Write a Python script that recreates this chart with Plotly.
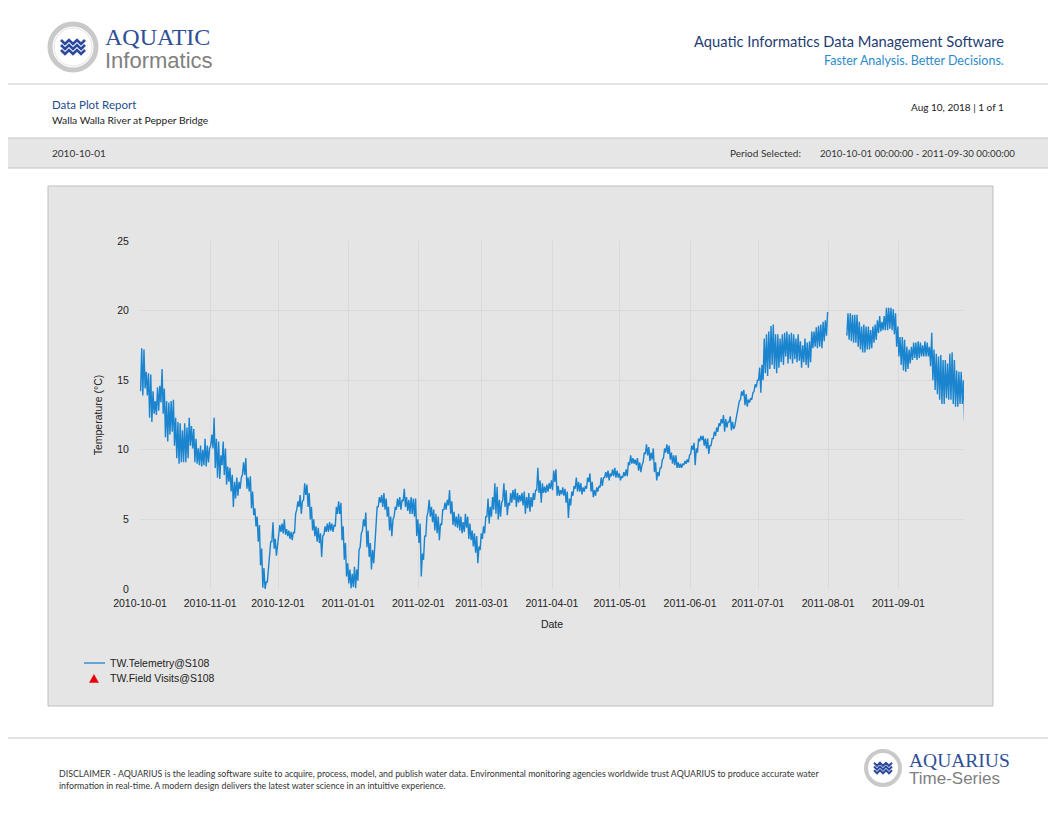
import pandas as pd
import plotly.graph_objects as go

# ---------------- data (daily low / high water temperature, deg C) ----------------
START = "2010-10-01"
END = "2011-09-30"

oct_low = [14.2,13.9,14.4,13.9,12.3,12.0,12.6,12.5,12.8,13.4,12.6,10.9,10.6,11.1,11.3,10.3,9.4,9.0,9.1,9.1,9.1,9.4,10.3,10.1,9.1,9.0,8.9,8.8,8.9,8.8,9.1]
oct_high = [17.3,17.2,15.6,15.5,15.4,14.2,13.5,14.5,14.6,15.8,14.4,13.5,13.4,13.5,13.6,12.3,12.0,11.9,11.4,11.9,11.6,12.3,11.7,11.5,10.8,10.1,10.3,10.0,10.8,10.3,10.1]
nov_low = [10.3,10.1,8.7,8.0,7.9,8.9,8.2,7.5,7.7,7.0,5.9,6.5,6.7,7.2,8.2,8.2,7.2,7.0,5.8,5.3,4.5,3.4,1.7,0.1,0.0,0.5,2.7,3.4,2.9,2.4]
nov_high = [11.1,12.3,10.8,10.6,9.6,10.6,10.1,8.8,8.7,8.2,7.7,8.0,7.7,8.0,9.1,9.4,8.0,8.1,7.0,5.8,5.2,4.6,2.9,1.5,0.5,1.5,3.4,4.8,3.6,3.2]
dec_low = [4.0,4.1,4.0,3.9,3.8,3.6,3.5,4.0,5.7,5.9,5.4,6.4,6.75,5.9,5.0,4.2,3.8,3.4,3.3,2.3,3.9,4.1,4.1,4.2,4.1,4.5,5.4,5.4,3.5,2.1,0.9]
dec_high = [4.6,4.7,5.0,4.3,4.2,4.1,4.1,5.4,6.3,6.75,6.3,7.6,7.5,6.9,5.9,5.0,4.5,4.4,4.0,3.8,4.5,4.7,4.8,4.7,4.6,5.9,6.3,6.2,4.5,3.3,1.85]
jan_low = [0.4,0.05,0.15,0.05,0.6,3.0,4.2,4.5,3.0,2.3,1.4,1.85,4.5,5.9,6.2,5.9,5.7,5.2,4.2,3.8,5.2,5.7,5.9,5.7,6.3,5.9,5.6,5.4,5.4,5.2,3.8]
jan_high = [1.4,1.1,1.6,1.4,2.8,4.0,5.0,5.5,4.2,3.3,2.8,3.8,5.9,6.6,6.75,6.9,6.5,5.9,5.2,5.0,5.9,6.5,6.6,6.4,7.2,6.6,6.4,6.6,6.5,6.5,5.0]
feb_low = [3.3,0.9,2.1,3.8,5.55,5.2,4.8,4.2,4.0,3.5,4.6,5.7,5.7,6.0,5.4,4.6,4.5,4.4,4.2,4.0,4.1,4.4,3.6,3.5,3.05,2.6,1.85,2.8]
feb_high = [4.7,2.55,3.8,5.2,6.4,5.9,5.7,5.4,5.2,4.7,5.7,6.2,6.4,7.1,6.3,5.55,5.2,5.4,5.2,4.8,5.4,5.2,4.7,4.2,4.0,3.8,3.05,4.0]
mar_low = [3.6,4.0,5.2,4.7,5.2,5.7,5.4,5.0,5.2,6.4,5.9,5.3,6.0,6.2,6.4,5.9,6.2,6.3,6.0,5.4,5.8,5.55,5.9,6.4,7.1,6.9,6.2,6.9,6.9,7.0,7.2]
mar_high = [4.5,5.2,6.5,5.9,6.6,7.6,7.35,6.4,6.2,7.6,7.1,6.2,6.9,7.1,7.2,6.9,6.75,6.9,7.0,6.6,6.9,6.6,6.9,7.1,8.7,7.8,7.6,7.35,7.5,7.6,7.8]
apr_low = [7.1,7.7,6.7,6.7,6.8,6.7,6.2,5.1,6.0,6.7,7.2,7.0,7.0,6.8,7.0,7.2,7.7,7.0,6.6,6.7,7.0,7.3,7.4,8.0,8.0,7.8,8.1,8.1,8.0,8.0]
apr_high = [8.5,8.6,7.4,7.1,7.3,7.2,7.0,6.5,7.0,7.4,8.0,7.7,7.6,7.3,7.4,8.0,8.3,7.7,7.1,7.3,7.4,8.0,8.0,8.4,8.5,8.3,8.6,8.7,8.5,8.3]
may_low = [7.8,8.0,8.1,8.1,8.9,9.0,9.0,8.9,8.5,8.4,9.1,9.7,9.6,9.2,9.3,8.4,7.8,8.1,8.7,9.4,9.8,9.7,9.3,9.0,8.9,8.7,8.7,8.7,8.9,9.0,9.1]
may_high = [8.1,8.4,8.6,9.1,9.6,9.4,9.3,9.4,9.1,8.9,9.8,10.4,10.2,9.8,10.1,9.1,8.4,8.7,9.3,10.1,10.4,10.3,9.8,9.6,9.6,9.1,9.0,9.0,9.2,9.3,9.6]
jun_low = [9.7,10.0,8.9,9.8,10.6,10.7,10.3,10.1,9.7,10.3,10.8,11.0,11.3,11.7,11.9,11.3,11.6,12.0,11.4,11.5,12.1,12.9,13.6,13.9,13.2,13.1,13.4,13.6,14.2,14.5]
jun_high = [10.3,10.5,10.1,10.8,11.0,11.0,10.8,10.8,10.3,10.8,11.3,11.6,11.9,12.2,12.5,12.2,12.0,12.4,12.0,11.7,12.5,13.5,14.2,14.3,14.0,13.6,13.7,14.1,14.7,15.0]
jul_low = [15.0,14.1,15.0,15.5,15.3,15.8,16.1,15.8,15.5,15.9,16.3,16.1,16.7,16.2,16.5,16.2,16.5,16.3,16.4,15.9,16.3,16.1,15.9,16.3,17.3,17.4,17.3,17.4,17.3,17.8,18.2]
jul_high = [15.9,16.1,18.0,18.3,18.5,18.9,19.0,18.3,18.3,18.0,18.3,18.4,18.5,18.3,18.4,18.3,18.0,18.3,17.8,17.5,18.0,17.7,17.8,18.5,18.5,18.8,18.9,19.0,19.2,19.3,19.9]
aug_low = [None]*8 + [18.2,17.9,17.8,17.7,17.7,17.4,17.2,17.0,17.0,17.2,17.2,17.3,17.7,17.9,18.4,18.5,18.6,18.6,18.6,18.7,18.6,18.3,17.4]
aug_high = [None]*8 + [19.8,19.8,19.7,19.7,19.7,19.2,18.85,19.0,18.85,18.85,18.6,18.85,19.0,19.3,19.6,19.2,19.6,20.2,20.2,20.2,20.1,19.8,18.85]
sep_low = [16.7,16.1,15.7,15.6,15.8,16.2,16.45,16.6,16.45,16.6,16.7,16.7,16.7,16.7,16.0,15.0,14.3,14.0,13.6,13.3,13.3,13.7,13.6,13.6,13.3,13.1,13.1,13.3,13.3,12.1]
sep_high = [18.1,18.1,17.9,17.4,17.2,17.4,17.7,17.7,17.8,17.7,17.5,17.8,17.7,17.4,18.4,17.2,16.9,16.7,16.8,16.45,16.45,16.2,16.9,17.0,16.45,15.7,15.6,15.6,15.0,14.9]

x_ticks = ["2010-10-01","2010-11-01","2010-12-01","2011-01-01","2011-02-01","2011-03-01",
           "2011-04-01","2011-05-01","2011-06-01","2011-07-01","2011-08-01","2011-09-01"]
y_ticks = [0, 5, 10, 15, 20, 25]

series_name = "TW.Telemetry@S108"
visits_name = "TW.Field Visits@S108"
visit_dates = []      # no field visits are plotted in this period
visit_values = []

# ---------------- build series ----------------
lows = (oct_low + nov_low + dec_low + jan_low + feb_low + mar_low +
        apr_low + may_low + jun_low + jul_low + aug_low + sep_low)
highs = (oct_high + nov_high + dec_high + jan_high + feb_high + mar_high +
         apr_high + may_high + jun_high + jul_high + aug_high + sep_high)
days = pd.date_range(START, END, freq="D")
xs, ys = [], []
for d, lo, hi in zip(days, lows, highs):
    xs += [d + pd.Timedelta(hours=6), d + pd.Timedelta(hours=18)]
    ys += [lo, hi]

# ---------------- page geometry helpers (page pixels -> paper) ----------------
OFF = 8                      # the page body margin
W, H = 1056 - OFF, 816 - OFF
def X(px): return (px - OFF) / W
def Y(py): return 1 - (py - OFF) / H

FONT = "Lato, 'Liberation Sans', sans-serif"
AX_FONT = "'Liberation Sans', Arial, sans-serif"
LINE_COLOR = "#1a84cf"
VISIT_COLOR = "#e8000b"

fig = go.Figure()
fig.add_trace(go.Scatter(x=xs, y=ys, mode="lines", name=series_name, showlegend=False,
                         line=dict(color=LINE_COLOR, width=1.4), connectgaps=False))
fig.add_trace(go.Scatter(x=visit_dates, y=visit_values, mode="markers", name=visits_name,
                         showlegend=False,
                         marker=dict(symbol="triangle-up", color=VISIT_COLOR, size=9)))

shapes = []
def rect(x0, y0, x1, y1, fill, line=None, lw=1):
    shapes.append(dict(type="rect", xref="paper", yref="paper", layer="below",
                       x0=X(x0), x1=X(x1), y0=Y(y1), y1=Y(y0), fillcolor=fill,
                       line=dict(color=line or fill, width=lw if line else 0)))
def hline(y, x0=0, x1=1056, color="#c8c8c8", w=1.2, layer="below"):
    shapes.append(dict(type="line", xref="paper", yref="paper", layer=layer,
                       x0=X(x0), x1=X(x1), y0=Y(y), y1=Y(y), line=dict(color=color, width=w)))
def circle(cx, cy, r, line, w, fill="white"):
    shapes.append(dict(type="circle", xref="paper", yref="paper", layer="above",
                       x0=X(cx - r), x1=X(cx + r), y0=Y(cy + r), y1=Y(cy - r),
                       fillcolor=fill, line=dict(color=line, width=w)))
def polygon(pts, fill):
    path = "M " + " L ".join(f"{X(a):.5f},{Y(b):.5f}" for a, b in pts) + " Z"
    shapes.append(dict(type="path", xref="paper", yref="paper", layer="above",
                       path=path, fillcolor=fill, line=dict(color=fill, width=0.5)))
def waves(cx, cy, s):
    for row in (-1, 0, 1):
        yy = cy + row * 5 * s
        pts = []
        for k in range(7):
            px = cx - 12 * s + k * 4 * s
            py = yy + (-2 * s if k % 2 == 0 else 2 * s)
            pts.append(f"{X(px):.5f},{Y(py):.5f}")
        shapes.append(dict(type="path", xref="paper", yref="paper", layer="above",
                           path="M " + " L ".join(pts),
                           line=dict(color="#2b4a9b", width=2.6 * s)))

rect(-2, 138, 1058, 168, "#e6e6e6", "#c4c4c4", 1)
rect(48, 186, 993, 706, "#e5e5e5", "#bfbfbf", 1)
hline(84)
hline(738)
circle(73, 47, 23, "#c9c9c9", 5)
circle(73, 47, 19, "#e3e3e3", 1)
waves(73, 47, 1.0)
circle(883, 768, 17, "#c9c9c9", 4)
waves(883, 768, 0.75)
# legend symbols
hline(663, 84, 105, color=LINE_COLOR, w=1.3, layer="above")
polygon([(89.5, 682.5), (98.5, 682.5), (94, 674.5)], VISIT_COLOR)

ann = []
def text(s, x, y, size, color="#222222", anchor="left", family=FONT, **kw):
    ann.append(dict(text=s, x=X(x), y=Y(y), xref="paper", yref="paper", showarrow=False,
                    xanchor=anchor, yanchor="middle",
                    font=dict(size=size, color=color, family=family), **kw))

text("AQUATIC", 103, 37, 24, "#2f4f96", family="'Liberation Serif', serif")
text("Informatics", 103, 61, 22, "#808080", family="'Liberation Sans', sans-serif")
text("Aquatic Informatics Data Management Software", 1006, 41, 14.7, "#1f3d73", "right")
text("Faster Analysis. Better Decisions.", 1006, 60, 12.5, "#2e8bc9", "right")
text("Data Plot Report", 50, 104, 11.5, "#1f4e8c")
text("Walla Walla River at Pepper Bridge", 50, 120, 10.3, "#222222")
text("Aug 10, 2018 | 1 of 1", 1006, 107, 10, "#222222", "right")
text("2010-10-01", 50, 153, 10, "#333333")
text("Period Selected:", 803, 153, 10, "#333333", "right")
text("2010-10-01 00:00:00 - 2011-09-30 00:00:00", 818, 153, 9.7, "#333333")
text("DISCLAIMER - AQUARIUS is the leading software suite to acquire, process, model, and publish water data. "
     "Environmental monitoring agencies worldwide trust AQUARIUS to produce accurate water", 57, 773, 8.8, "#333333")
text("information in real-time. A modern design delivers the latest water science in an intuitive experience.",
     57, 785, 8.8, "#333333")
text("AQUARIUS", 907, 760, 19.5, "#2f4f96", family="'Liberation Serif', serif")
text("Time-Series", 907, 778, 17, "#808080", family="'Liberation Sans', sans-serif")
# legend texts
text(series_name, 108, 663, 10.5, "#222222", family=AX_FONT)
text(visits_name, 108, 678, 10.5, "#222222", family=AX_FONT)

fig.update_layout(
    width=W, height=H, margin=dict(l=0, r=0, t=0, b=0, pad=0, autoexpand=False),
    paper_bgcolor="white", plot_bgcolor="white",
    shapes=shapes, annotations=ann,
    showlegend=False,
    xaxis=dict(domain=[X(140), X(964)], type="date", range=[START, END], automargin=False,
               tickvals=x_ticks, ticktext=x_ticks, showgrid=True, gridcolor="#d9d9d9",
               gridwidth=1, zeroline=False, showline=False,
               ticks="outside", ticklen=4, tickcolor="rgba(0,0,0,0)",
               tickfont=dict(size=10.5, family=AX_FONT, color="#222222"),
               title=dict(text="Date", standoff=13,
                          font=dict(size=10.5, family=AX_FONT, color="#222222"))),
    yaxis=dict(domain=[Y(589), Y(241)], range=[0, 25], tickvals=y_ticks, automargin=False,
               showgrid=True, gridcolor="#d9d9d9", gridwidth=1, zeroline=False,
               showline=False, ticks="outside", ticklen=8, tickcolor="rgba(0,0,0,0)",
               tickfont=dict(size=10.5, family=AX_FONT, color="#222222"),
               title=dict(text="Temperature (°C)", standoff=12,
                          font=dict(size=10.5, family=AX_FONT, color="#222222"))),
)

fig.write_html("out.html")
